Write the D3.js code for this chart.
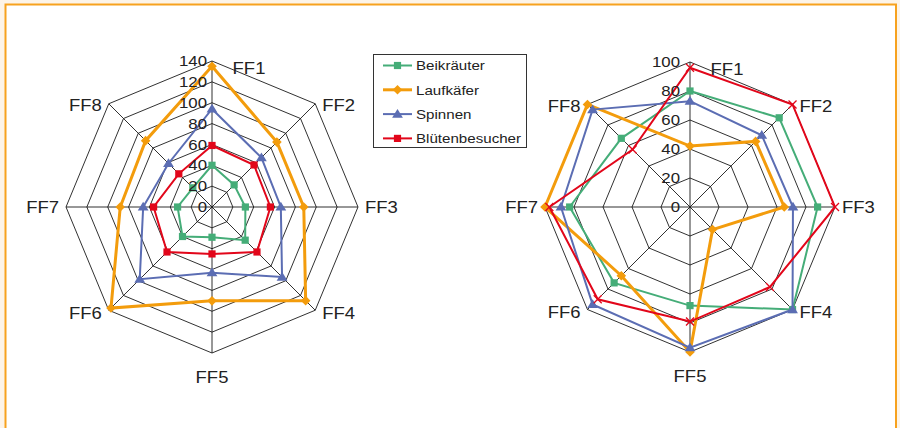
<!DOCTYPE html>
<html>
<head>
<meta charset="utf-8">
<script src="https://cdn.jsdelivr.net/npm/d3@7"></script>
<style>
html,body{margin:0;padding:0;background:#fdf4e8;}
svg{display:block;font-family:"Liberation Sans",Arial,sans-serif;}
</style>
</head>
<body>
<svg id="chart" width="900" height="428"></svg>
<script>
// ---------------- data ----------------
const categories = ["FF1","FF2","FF3","FF4","FF5","FF6","FF7","FF8"];
const seriesNames = ["Beikräuter","Laufkäfer","Spinnen","Blütenbesucher"];
const leftTicks = [0,20,40,60,80,100,120,140];
const rightTicks = [0,20,40,60,80,100];

// left chart
const leftBeikraeuter     = [40, 30, 32, 45, 29, 40, 33, 26];
const leftLaufkaefer      = [135, 88, 88, 127, 90, 137, 88, 90];
const leftSpinnen         = [94, 67, 66, 95, 63, 98, 66, 59];
const leftBluetenbesucher = [59, 57, 56, 61, 45, 61, 56, 45];

// right chart
const rightBeikraeuter     = [80, 87, 88, 100, 68, 74, 83, 67];
const rightLaufkaefer      = [42, 64, 65, 22, 100, 67, 100, 100];
const rightSpinnen         = [73, 70, 71, 100, 97, 95, 89, 95];
const rightBluetenbesucher = [96, 100, 100, 78, 79, 90, 97, 56];

// ---------------- styles ----------------
const colors = ["#45ad78", "#f39c0c", "#5b6db3", "#e2061a"];
const widths = [2, 3, 2, 2];
const SX = 1.12; // horizontal text stretch of the original

const svg = d3.select("#chart");
svg.append("rect").attr("x",5.5).attr("y",4.5).attr("width",890.5).attr("height",520)
  .attr("fill","#fff").attr("stroke","#f7a21e").attr("stroke-width",2);

function markerPath(type, cx, cy) {
  const p = d3.path();
  if (type === "square") {
    const h = 3.6; p.rect(cx-h, cy-h, 2*h, 2*h);
  } else if (type === "diamond") {
    const h = 4.8; p.moveTo(cx, cy-h); p.lineTo(cx+h, cy); p.lineTo(cx, cy+h); p.lineTo(cx-h, cy); p.closePath();
  } else if (type === "triangle") {
    const w = 5.4, t = 5.2, b = 3.6;
    p.moveTo(cx, cy-t); p.lineTo(cx+w, cy+b); p.lineTo(cx-w, cy+b); p.closePath();
  } else if (type === "x") {
    const h = 4; p.moveTo(cx-h, cy-h); p.lineTo(cx+h, cy+h); p.moveTo(cx+h, cy-h); p.lineTo(cx-h, cy+h);
  }
  return p.toString();
}

function stretchedText(g, x, y, txt, size, anchor) {
  return g.append("text")
    .attr("transform", `translate(${x},${y}) scale(${SX},1)`)
    .attr("text-anchor", anchor)
    .attr("dominant-baseline", "central")
    .attr("font-size", size)
    .attr("fill", "#222")
    .text(txt);
}

function radar(cx, cy, R, ticks, data, markers, tickDx) {
  const g = svg.append("g").attr("transform", `translate(${cx},${cy})`);
  const maxV = ticks[ticks.length-1];
  const r = d3.scaleLinear().domain([0, maxV]).range([0, R]);
  const ang = d3.scaleLinear().domain([0, categories.length]).range([0, 2*Math.PI]);
  const pt = (i, v) => [r(v)*Math.sin(ang(i)), -r(v)*Math.cos(ang(i))];

  // grid rings
  const ringLine = d3.lineRadial().angle((d,i)=>ang(i)).radius(d=>r(d)).curve(d3.curveLinearClosed);
  ticks.slice(1).forEach(t => {
    g.append("path").attr("d", ringLine(categories.map(()=>t)))
      .attr("fill","none").attr("stroke","#1a1a1a").attr("stroke-width",0.9);
  });
  // spokes
  categories.forEach((c,i) => {
    const [x,y] = pt(i, maxV);
    g.append("line").attr("x1",0).attr("y1",0).attr("x2",x).attr("y2",y)
      .attr("stroke","#1a1a1a").attr("stroke-width",0.9);
  });

  // series
  const line = d3.lineRadial().angle((d,i)=>ang(i)).radius(d=>r(d)).curve(d3.curveLinearClosed);
  data.forEach((vals, s) => {
    g.append("path").attr("d", line(vals)).attr("fill","none")
      .attr("stroke", colors[s]).attr("stroke-width", widths[s]).attr("stroke-linejoin","miter");
    vals.forEach((v,i) => {
      const [x,y] = pt(i, v);
      const m = markers[s];
      g.append("path").attr("d", markerPath(m, x, y))
        .attr("fill", m === "x" ? "none" : colors[s])
        .attr("stroke", m === "x" ? colors[s] : "none")
        .attr("stroke-width", 1.3);
    });
  });

  // tick labels
  ticks.forEach(t => {
    stretchedText(g, tickDx, -r(t), String(t), 15, "end");
  });

  // category labels
  const off = R * Math.SQRT1_2;
  const labelPos = [
    [37, -R+7, "middle"],
    [off+7, -off+2, "start"],
    [R+7, 0, "start"],
    [off+7, off+3, "start"],
    [0, R+24, "middle"],
    [-off-7, off+3, "end"],
    [-R-7, 0, "end"],
    [-off-7, -off+2, "end"]
  ];
  categories.forEach((c,i) => {
    const [x,y,a] = labelPos[i];
    stretchedText(g, x, y, c, 16.5, a);
  });
}

radar(212, 207, 146, leftTicks,
  [leftBeikraeuter, leftLaufkaefer, leftSpinnen, leftBluetenbesucher],
  ["square","diamond","triangle","square"], -5);
radar(690, 207, 145, rightTicks,
  [rightBeikraeuter, rightLaufkaefer, rightSpinnen, rightBluetenbesucher],
  ["square","diamond","triangle","x"], -10);

// legend
const lg = svg.append("g");
lg.append("rect").attr("x",373.5).attr("y",54.5).attr("width",153).attr("height",93)
  .attr("fill","#fff").attr("stroke","#333").attr("stroke-width",1);
const legendMarkers = ["square","diamond","triangle","square"];
seriesNames.forEach((n, s) => {
  const y = 65.5 + s*24.3;
  lg.append("line").attr("x1",383).attr("x2",412).attr("y1",y).attr("y2",y)
    .attr("stroke",colors[s]).attr("stroke-width",widths[s]);
  lg.append("path").attr("d", markerPath(legendMarkers[s], 397.5, y)).attr("fill",colors[s]);
  stretchedText(lg, 416, y, n, 13.5, "start");
});
</script>
</body>
</html>
